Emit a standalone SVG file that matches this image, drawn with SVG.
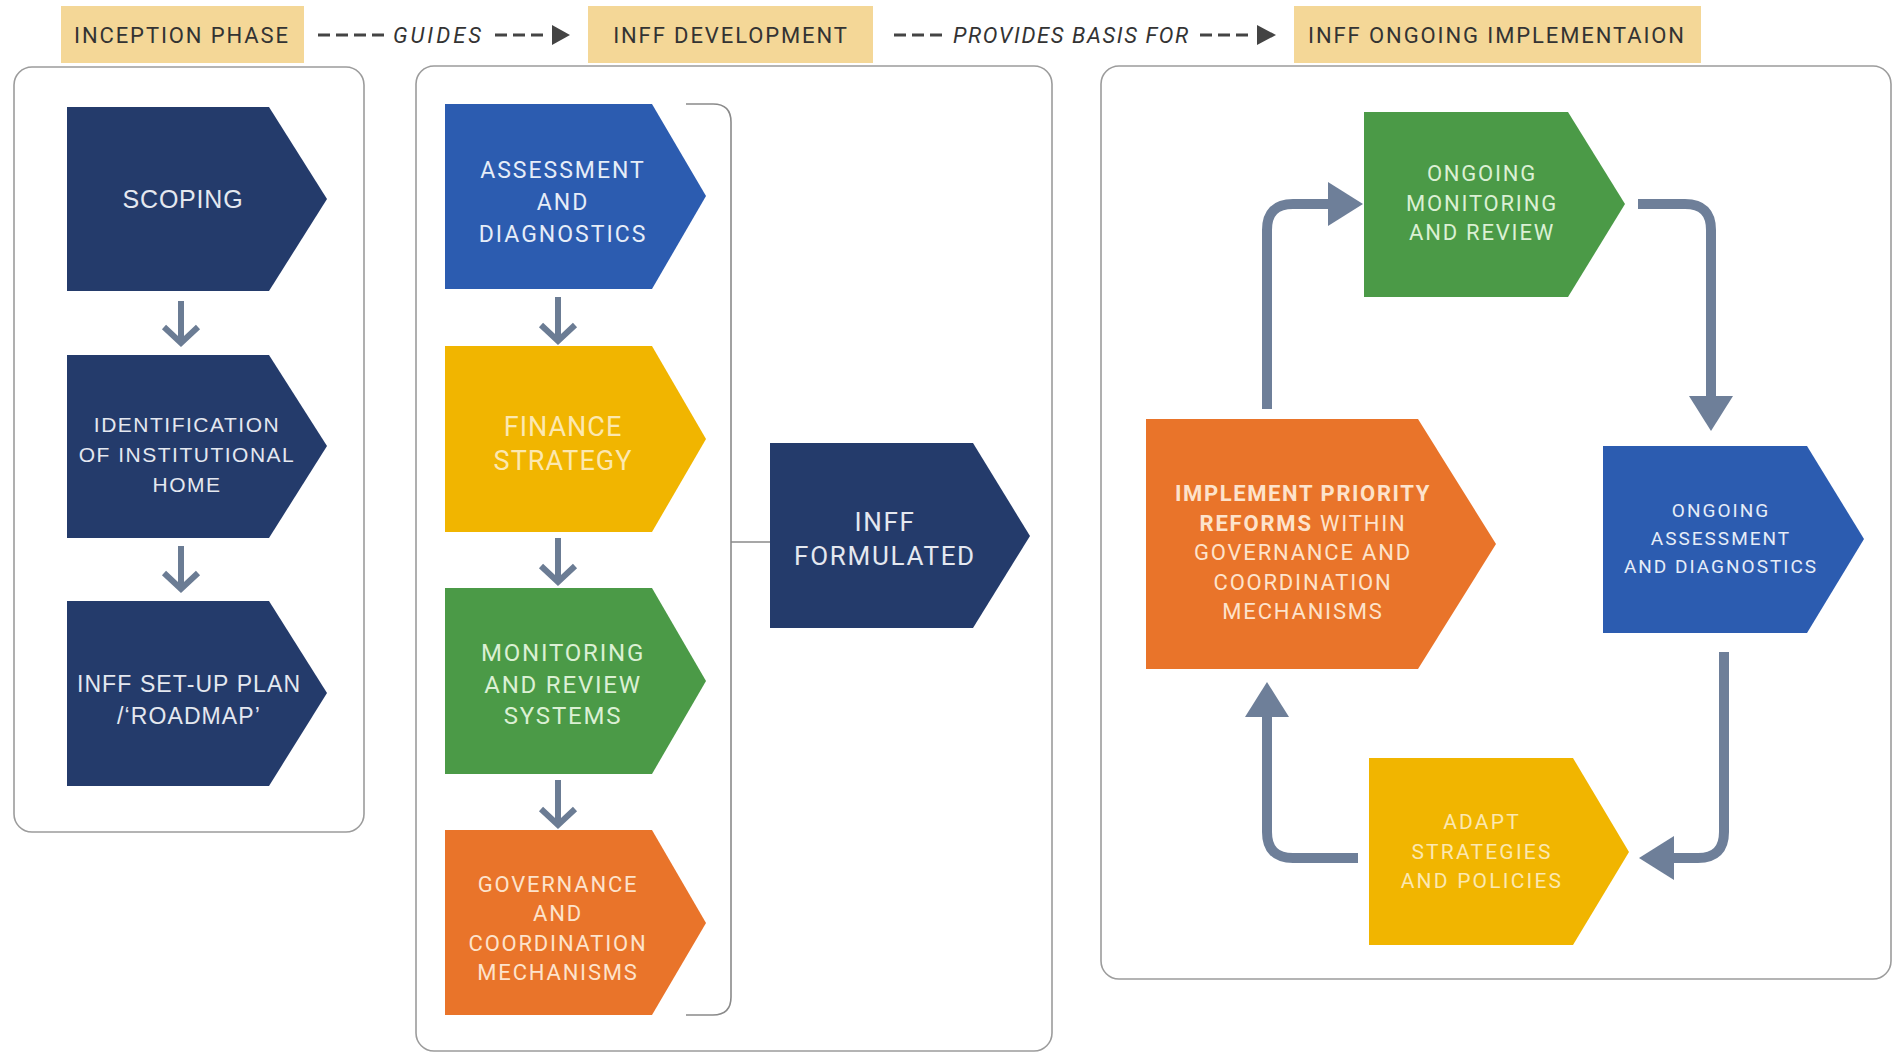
<svg xmlns="http://www.w3.org/2000/svg" width="1901" height="1053" viewBox="0 0 1901 1053">
<style>
.panel{fill:#ffffff;stroke:#9c9c9c;stroke-width:1.6}
.tab{fill:#f4d797}
.tabtxt{font-family:Roboto,"Liberation Sans",sans-serif;font-size:22px;letter-spacing:1.9px;fill:#333333;text-anchor:middle}
.lbl{font-family:Roboto,"Liberation Sans",sans-serif;font-size:22px;font-style:italic;fill:#333333}
.dash{stroke:#444444;stroke-width:3;stroke-dasharray:12 6;fill:none}
.navy{fill:#243b6b}
.blue{fill:#2c5cb0}
.yellow{fill:#f1b500}
.green{fill:#4b9a47}
.orange{fill:#e9742a}
.ta{font-family:"Liberation Sans",Arial,sans-serif;text-anchor:middle;fill:#e4e8f0}
.t{font-family:Roboto,"Liberation Sans",sans-serif;text-anchor:middle}
.onnavy{fill:#e4e8f0}
.onblue{fill:#e6edf8}
.onyellow{fill:#fce8b0}
.ongreen{fill:#dbf0d4}
.onorange{fill:#fde3cc}
.flow{stroke:#6e7f99;stroke-width:10;fill:none}
.small{stroke:#6b7c94;stroke-width:6;fill:none}
.brk{stroke:#8a8a8a;stroke-width:1.6;fill:none}
</style>
<defs>
<marker id="ah" markerUnits="userSpaceOnUse" markerWidth="36" markerHeight="44" refX="0" refY="22" orient="auto">
<polygon points="0,0 35,22 0,44" fill="#6e7f99"/>
</marker>
</defs>
<rect x="0" y="0" width="1901" height="1053" fill="#ffffff"/>

<g id="panels">
<rect class="panel" x="14" y="67" width="350" height="765" rx="18"/>
<rect class="panel" x="416" y="66" width="636" height="985" rx="18"/>
<rect class="panel" x="1101" y="66" width="790" height="913" rx="18"/>
</g>

<g id="tab-inception">
<rect class="tab" x="61" y="6" width="243" height="57"/>
<text class="tabtxt" x="182" y="43">INCEPTION PHASE</text>
</g>
<g id="tab-development">
<rect class="tab" x="588" y="6" width="285" height="57"/>
<text class="tabtxt" x="731" y="43">INFF DEVELOPMENT</text>
</g>
<g id="tab-implementation">
<rect class="tab" x="1294" y="6" width="407" height="57"/>
<text class="tabtxt" x="1497" y="43">INFF ONGOING IMPLEMENTAION</text>
</g>

<g id="connectors">
<line class="dash" x1="318" y1="35" x2="384" y2="35"/>
<text class="lbl" x="393" y="43" letter-spacing="3">GUIDES</text>
<line class="dash" x1="495" y1="35" x2="544" y2="35"/>
<polygon points="552,25 570,35 552,45" fill="#444444"/>
<line class="dash" x1="894" y1="35" x2="943" y2="35"/>
<text class="lbl" x="953" y="43" letter-spacing="1.6">PROVIDES BASIS FOR</text>
<line class="dash" x1="1200" y1="35" x2="1250" y2="35"/>
<polygon points="1257,25 1276,35 1257,45" fill="#444444"/>

<path class="small" d="M181,301 V343 M164,327 L181,343 L198,327"/>
<path class="small" d="M181,546 V589 M164,573 L181,589 L198,573"/>
<path class="small" d="M558,297 V341 M541,325 L558,341 L575,325"/>
<path class="small" d="M558,538 V582 M541,566 L558,582 L575,566"/>
<path class="small" d="M558,780 V825 M541,809 L558,825 L575,809"/>

<path class="brk" d="M686,104 H713 Q731,104 731,122 V997 Q731,1015 713,1015 H686"/>
<line class="brk" x1="731" y1="542" x2="770" y2="542"/>

<path class="flow" d="M1267,409 V230 Q1267,204 1293,204 H1328" marker-end="url(#ah)"/>
<path class="flow" d="M1638,204 H1685 Q1711,204 1711,230 V396" marker-end="url(#ah)"/>
<path class="flow" d="M1724,652 V832 Q1724,858 1698,858 H1674" marker-end="url(#ah)"/>
<path class="flow" d="M1358,858 H1293 Q1267,858 1267,832 V717" marker-end="url(#ah)"/>
</g>

<g id="scoping">
<polygon class="navy" points="67,107 269,107 327,199 269,291 67,291"/>
<text class="ta" x="183" y="208" font-size="25" letter-spacing="0.8">SCOPING</text>
</g>
<g id="institutional-home">
<polygon class="navy" points="67,355 269,355 327,446 269,538 67,538"/>
<text class="ta" x="187" y="432" font-size="21" letter-spacing="1.5">IDENTIFICATION</text>
<text class="ta" x="187" y="462" font-size="21" letter-spacing="1.5">OF INSTITUTIONAL</text>
<text class="ta" x="187" y="492" font-size="21" letter-spacing="1.5">HOME</text>
</g>
<g id="setup-plan">
<polygon class="navy" points="67,601 269,601 327,693 269,786 67,786"/>
<text class="ta" x="189" y="692" font-size="23" letter-spacing="1.1">INFF SET-UP PLAN</text>
<text class="ta" x="189" y="724" font-size="23" letter-spacing="1.1">/‘ROADMAP’</text>
</g>

<g id="assessment">
<polygon class="blue" points="445,104 652,104 706,196 652,289 445,289"/>
<text class="t onblue" x="563" y="178" font-size="23" letter-spacing="2">ASSESSMENT</text>
<text class="t onblue" x="563" y="210" font-size="23" letter-spacing="2">AND</text>
<text class="t onblue" x="563" y="242" font-size="23" letter-spacing="2">DIAGNOSTICS</text>
</g>
<g id="finance-strategy">
<polygon class="yellow" points="445,346 652,346 706,439 652,532 445,532"/>
<text class="t onyellow" x="563" y="436" font-size="27" letter-spacing="1">FINANCE</text>
<text class="t onyellow" x="563" y="470" font-size="27" letter-spacing="1">STRATEGY</text>
</g>
<g id="monitoring">
<polygon class="green" points="445,588 652,588 706,681 652,774 445,774"/>
<text class="t ongreen" x="563" y="661" font-size="24" letter-spacing="1.8">MONITORING</text>
<text class="t ongreen" x="563" y="693" font-size="24" letter-spacing="1.8">AND REVIEW</text>
<text class="t ongreen" x="563" y="724" font-size="24" letter-spacing="1.8">SYSTEMS</text>
</g>
<g id="governance">
<polygon class="orange" points="445,830 652,830 706,923 652,1015 445,1015"/>
<text class="t onorange" x="558" y="892" font-size="22" letter-spacing="1.8">GOVERNANCE</text>
<text class="t onorange" x="558" y="921" font-size="22" letter-spacing="1.8">AND</text>
<text class="t onorange" x="558" y="951" font-size="22" letter-spacing="1.8">COORDINATION</text>
<text class="t onorange" x="558" y="980" font-size="22" letter-spacing="1.8">MECHANISMS</text>
</g>
<g id="inff-formulated">
<polygon class="navy" points="770,443 973,443 1030,536 973,628 770,628"/>
<text class="t onnavy" x="885" y="531" font-size="26" letter-spacing="1.7">INFF</text>
<text class="t onnavy" x="885" y="565" font-size="26" letter-spacing="1.7">FORMULATED</text>
</g>

<g id="ongoing-monitoring">
<polygon class="green" points="1364,112 1568,112 1625,204 1568,297 1364,297"/>
<text class="t ongreen" x="1482" y="181" font-size="22" letter-spacing="1.8">ONGOING</text>
<text class="t ongreen" x="1482" y="211" font-size="22" letter-spacing="1.8">MONITORING</text>
<text class="t ongreen" x="1482" y="240" font-size="22" letter-spacing="1.8">AND REVIEW</text>
</g>
<g id="ongoing-assessment">
<polygon class="blue" points="1603,446 1807,446 1864,539 1807,633 1603,633"/>
<text class="t onblue" x="1721" y="517" font-size="19" letter-spacing="2">ONGOING</text>
<text class="t onblue" x="1721" y="545" font-size="19" letter-spacing="2">ASSESSMENT</text>
<text class="t onblue" x="1721" y="573" font-size="19" letter-spacing="2">AND DIAGNOSTICS</text>
</g>
<g id="adapt">
<polygon class="yellow" points="1369,758 1573,758 1629,852 1573,945 1369,945"/>
<text class="t onyellow" x="1482" y="829" font-size="21" letter-spacing="2.2">ADAPT</text>
<text class="t onyellow" x="1482" y="859" font-size="21" letter-spacing="2.2">STRATEGIES</text>
<text class="t onyellow" x="1482" y="888" font-size="21" letter-spacing="2.2">AND POLICIES</text>
</g>
<g id="implement">
<polygon class="orange" points="1146,419 1418,419 1496,544 1418,669 1146,669"/>
<text class="t onorange" x="1303" y="501" font-size="22" letter-spacing="1.6" font-weight="bold">IMPLEMENT PRIORITY</text>
<text class="t onorange" x="1303" y="531" font-size="22" letter-spacing="1.8"><tspan font-weight="bold">REFORMS</tspan> WITHIN</text>
<text class="t onorange" x="1303" y="560" font-size="22" letter-spacing="1.8">GOVERNANCE AND</text>
<text class="t onorange" x="1303" y="590" font-size="22" letter-spacing="1.8">COORDINATION</text>
<text class="t onorange" x="1303" y="619" font-size="22" letter-spacing="1.8">MECHANISMS</text>
</g>
</svg>
